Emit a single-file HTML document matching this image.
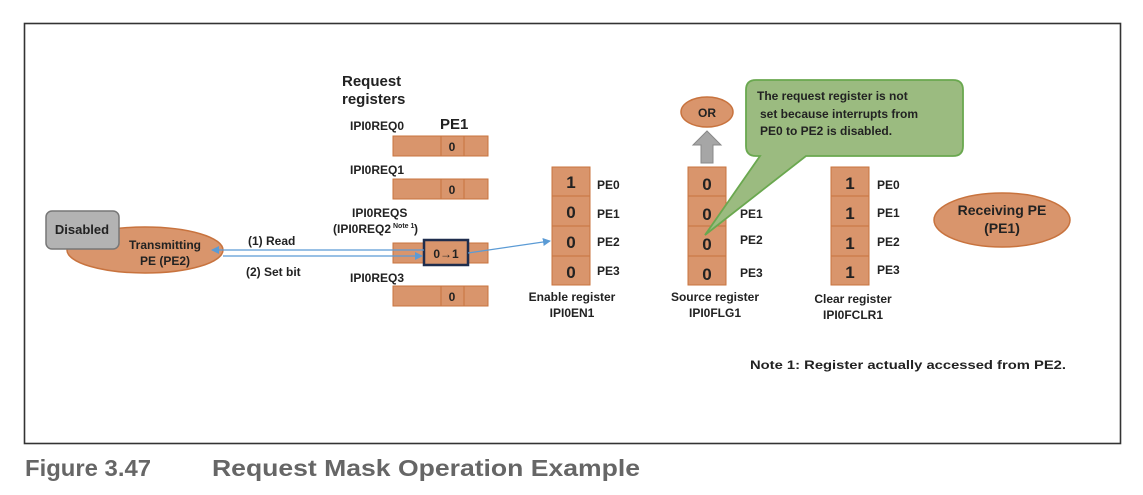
<!DOCTYPE html>
<html><head><meta charset="utf-8"><style>
html,body{margin:0;padding:0;background:#fff;}
svg{display:block;font-family:"Liberation Sans",sans-serif;font-weight:bold;}
</style></head><body>
<svg width="1143" height="495" viewBox="0 0 1143 495" xmlns="http://www.w3.org/2000/svg">
<defs>
<marker id="ah" markerWidth="8" markerHeight="8" refX="7" refY="4" orient="auto" markerUnits="userSpaceOnUse"><path d="M0,0 L8,4 L0,8 z" fill="#5b9bd5"/></marker>
</defs>
<rect x="24.5" y="23.5" width="1096" height="420" fill="none" stroke="#333" stroke-width="1.6"/>

<!-- Request registers -->
<text x="342" y="86" font-size="15" fill="#222">Request</text>
<text x="342" y="104" font-size="15" fill="#222">registers</text>
<text x="350" y="130" font-size="12" fill="#222">IPI0REQ0</text>
<text x="440" y="129" font-size="15" fill="#222">PE1</text>
<g fill="#d9956c" stroke="#c8733e" stroke-width="1">
<rect x="393" y="136" width="95" height="20"/><line x1="441" y1="136" x2="441" y2="156"/><line x1="464" y1="136" x2="464" y2="156"/>
<rect x="393" y="179" width="95" height="20"/><line x1="441" y1="179" x2="441" y2="199"/><line x1="464" y1="179" x2="464" y2="199"/>
<rect x="393" y="243" width="95" height="20"/>
<rect x="393" y="286" width="95" height="20"/><line x1="441" y1="286" x2="441" y2="306"/><line x1="464" y1="286" x2="464" y2="306"/>
</g>
<g font-size="12" fill="#222" text-anchor="middle">
<text x="452" y="151">0</text><text x="452" y="194">0</text><text x="452" y="301">0</text>
</g>
<text x="350" y="174" font-size="12" fill="#222">IPI0REQ1</text>
<text x="352" y="217" font-size="12" fill="#222">IPI0REQS</text>
<text x="333" y="233" font-size="12" fill="#222">(IPI0REQ2</text>
<text x="393" y="228" font-size="7" fill="#222">Note 1</text>
<text x="414" y="233" font-size="12" fill="#222">)</text>
<text x="350" y="282" font-size="12" fill="#222">IPI0REQ3</text>
<rect x="424" y="240" width="44" height="25" fill="#d9956c" stroke="#1f2d4d" stroke-width="2.5"/>
<text x="446" y="258" font-size="12" fill="#222" text-anchor="middle">0→1</text>

<!-- Transmitting PE -->
<ellipse cx="145" cy="250" rx="78" ry="23" fill="#d9956c" stroke="#c8733e" stroke-width="1.5"/>
<text x="165" y="249" font-size="12" fill="#222" text-anchor="middle">Transmitting</text>
<text x="165" y="265" font-size="12" fill="#222" text-anchor="middle">PE (PE2)</text>
<rect x="46" y="211" width="73" height="38" rx="6" fill="#b3b3b3" stroke="#777" stroke-width="1.5"/>
<text x="82" y="234" font-size="13" fill="#222" text-anchor="middle">Disabled</text>

<!-- arrows -->
<line x1="424" y1="250" x2="212" y2="250" stroke="#5b9bd5" stroke-width="1.2" marker-end="url(#ah)"/>
<line x1="223" y1="256" x2="422" y2="256" stroke="#5b9bd5" stroke-width="1.2" marker-end="url(#ah)"/>
<line x1="468" y1="253" x2="550" y2="241" stroke="#5b9bd5" stroke-width="1.2" marker-end="url(#ah)"/>
<text x="248" y="245" font-size="12" fill="#222">(1) Read</text>
<text x="246" y="276" font-size="12" fill="#222">(2) Set bit</text>

<!-- vertical registers -->
<g fill="#d9956c" stroke="#c8733e" stroke-width="1">
<rect x="552" y="167" width="38" height="118"/><line x1="552" y1="196" x2="590" y2="196"/><line x1="552" y1="226" x2="590" y2="226"/><line x1="552" y1="256" x2="590" y2="256"/>
<rect x="688" y="167" width="38" height="118"/><line x1="688" y1="196" x2="726" y2="196"/><line x1="688" y1="226" x2="726" y2="226"/><line x1="688" y1="256" x2="726" y2="256"/>
<rect x="831" y="167" width="38" height="118"/><line x1="831" y1="196" x2="869" y2="196"/><line x1="831" y1="226" x2="869" y2="226"/><line x1="831" y1="256" x2="869" y2="256"/>
</g>
<g font-size="17" fill="#222" text-anchor="middle">
<text x="571" y="188">1</text><text x="571" y="218">0</text><text x="571" y="248">0</text><text x="571" y="278">0</text>
<text x="707" y="190">0</text><text x="707" y="220">0</text><text x="707" y="250">0</text><text x="707" y="280">0</text>
<text x="850" y="189">1</text><text x="850" y="219">1</text><text x="850" y="249">1</text><text x="850" y="278">1</text>
</g>
<g font-size="12" fill="#222">
<text x="597" y="189">PE0</text><text x="597" y="218">PE1</text><text x="597" y="246">PE2</text><text x="597" y="275">PE3</text>
<text x="740" y="191">PE0</text><text x="740" y="218">PE1</text><text x="740" y="244">PE2</text><text x="740" y="277">PE3</text>
<text x="877" y="189">PE0</text><text x="877" y="217">PE1</text><text x="877" y="246">PE2</text><text x="877" y="274">PE3</text>
</g>
<g font-size="12" fill="#222" text-anchor="middle">
<text x="572" y="301">Enable register</text><text x="572" y="317">IPI0EN1</text>
<text x="715" y="301">Source register</text><text x="715" y="317">IPI0FLG1</text>
<text x="853" y="303">Clear register</text><text x="853" y="319">IPI0FCLR1</text>
</g>

<!-- OR + arrow -->
<ellipse cx="707" cy="112" rx="26" ry="15" fill="#d9956c" stroke="#c8733e" stroke-width="1.5"/>
<text x="707" y="117" font-size="12" fill="#222" text-anchor="middle">OR</text>
<path d="M701,163 L701,145 L693,145 L707,131 L721,145 L713,145 L713,163 Z" fill="#a6a6a6" stroke="#888"/>

<!-- callout -->
<path d="M756,80 H953 Q963,80 963,90 V146 Q963,156 953,156 H806 L705,235 L760,156 H756 Q746,156 746,146 V90 Q746,80 756,80 Z" fill="#9bbb80" stroke="#6aa84f" stroke-width="1.8"/>
<g font-size="12" fill="#222">
<text x="757" y="100">The request register is not</text>
<text x="760" y="118">set because interrupts from</text>
<text x="760" y="135">PE0 to PE2 is disabled.</text>
</g>

<!-- Receiving PE -->
<ellipse cx="1002" cy="220" rx="68" ry="27" fill="#d9956c" stroke="#c8733e" stroke-width="1.5"/>
<text x="1002" y="215" font-size="14" fill="#222" text-anchor="middle">Receiving PE</text>
<text x="1002" y="233" font-size="14" fill="#222" text-anchor="middle">(PE1)</text>

<text x="750" y="369" font-size="12" fill="#222" textLength="316" lengthAdjust="spacingAndGlyphs">Note 1: Register actually accessed from PE2.</text>

<text x="25" y="476" font-size="23" fill="#666" textLength="126" lengthAdjust="spacingAndGlyphs">Figure 3.47</text>
<text x="212" y="476" font-size="23" fill="#666" textLength="428" lengthAdjust="spacingAndGlyphs">Request Mask Operation Example</text>
</svg>
</body></html>
